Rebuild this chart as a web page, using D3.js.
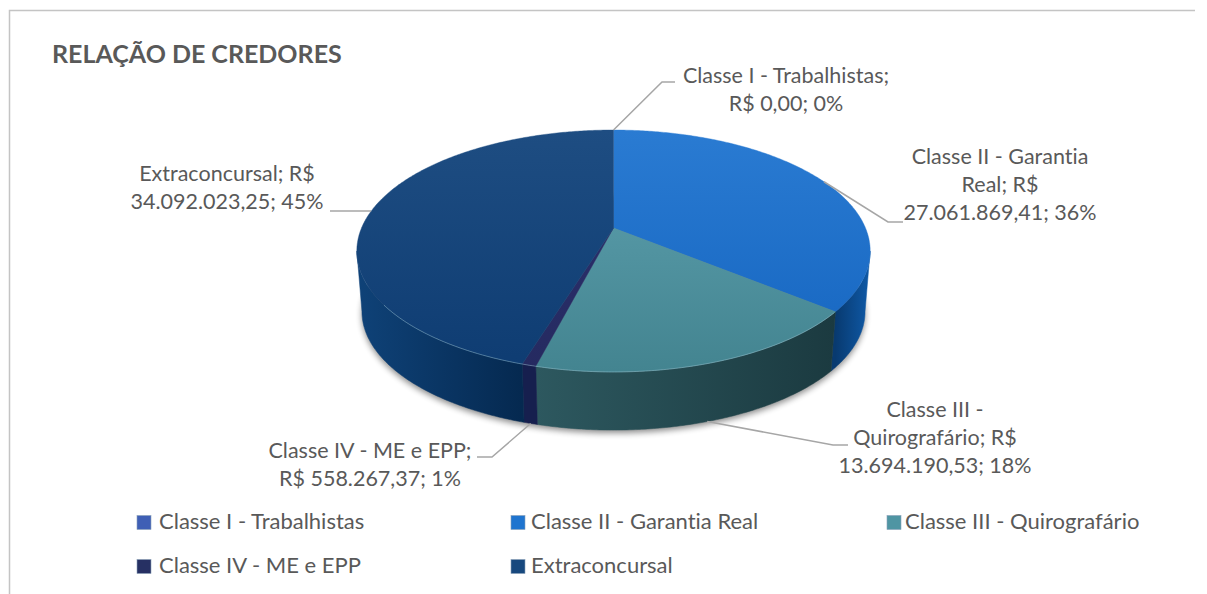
<!DOCTYPE html>
<html><head><meta charset="utf-8">
<script src="https://cdn.jsdelivr.net/npm/d3@7/dist/d3.min.js"></script>
<style>html,body{margin:0;padding:0;background:#fff}svg{display:block}text{font-family:Lato,Carlito,sans-serif;font-variant-ligatures:none}</style>
</head><body><div id="c"></div>
<script>
const title = "RELAÇÃO DE CREDORES";
const categories = ["Classe I - Trabalhistas","Classe II - Garantia Real","Classe III - Quirografário","Classe IV - ME e EPP","Extraconcursal"];
const values = [0, 27061869.41, 13694190.53, 558267.37, 34092023.25];
const dataLabels = [
  ["Classe I - Trabalhistas;","R$ 0,00; 0%"],
  ["Classe II - Garantia","Real; R$","27.061.869,41; 36%"],
  ["Classe III -","Quirografário; R$","13.694.190,53; 18%"],
  ["Classe IV - ME e EPP;","R$ 558.267,37; 1%"],
  ["Extraconcursal; R$","34.092.023,25; 45%"]
];
const topColors = [["#4a6cc0","#3553a5"],["#2a7bd2","#1565c0"],["#5fa2b0","#438490"],["#2c3170","#252a60"],["#1e4d82","#0e3c72"]];
const sideColors = [["#2a3f80","#2a3f80"],["#083a70","#0f5aa8"],["#2d585f","#1b3a40"],["#161f4e","#161f4e"],["#0f4278","#052950"]];
const legendColors = ["#3f5fb5","#1f74cf","#4f95a3","#263063","#17487e"];

const W=1207,H=594;
const svg=d3.select("#c").append("svg").attr("width",W).attr("height",H);
const defs=svg.append("defs");
defs.append("filter").attr("id","blur").attr("x","-10%").attr("y","-10%").attr("width","120%").attr("height","130%")
  .append("feGaussianBlur").attr("stdDeviation",3);

// frame
svg.append("path").attr("d","M9.5,594V10.5H1195").attr("fill","none").attr("stroke","#c4c4c4").attr("stroke-width",1.5);
svg.append("text").attr("x",52).attr("y",63).attr("font-size",25).attr("font-weight",700).attr("fill","#595959").text(title);

// pie geometry
const cx=613.5, apexY=228, B=252, A=116.6, k=0.19;
const rimS=0.98, rimY=289;
const pieAngles=d3.pie().sort(null).value(d=>d).startAngle(0).endAngle(2*Math.PI)(values);
const topP=t=>{const X=Math.sin(t),Y=Math.cos(t),d=1+k*Y;return [cx+B*X/d,apexY-A*Y/d];};
const botP=t=>{const X=Math.sin(t),Y=Math.cos(t),d=1+k*Y;return [cx+rimS*B*X/d,rimY-rimS*A*Y/d];};
const sweep=(a,b)=>{const n=Math.max(2,Math.ceil(Math.abs(b-a)/0.01));return d3.range(n+1).map(i=>a+(b-a)*i/n);};
const line=d3.line();
const visA=Math.acos(-k), visB=2*Math.PI-visA;

// soft shadow below the body
svg.append("path").attr("d",line(sweep(0,2*Math.PI).map(t=>{const p=botP(t);return [p[0],p[1]+3];}))+"Z")
  .attr("fill","#000").attr("opacity",.45).attr("filter","url(#blur)");

function grad(id,c,x1,y1,x2,y2){
  const g=defs.append("linearGradient").attr("id",id).attr("gradientUnits","userSpaceOnUse")
    .attr("x1",x1).attr("y1",y1).attr("x2",x2).attr("y2",y2);
  g.append("stop").attr("offset",0).attr("stop-color",c[0]);
  g.append("stop").attr("offset",1).attr("stop-color",c[1]);
  return `url(#${id})`;
}
const gSide=svg.append("g"), gTop=svg.append("g");

pieAngles.forEach((s,i)=>{
  const a=Math.max(s.startAngle,visA), b=Math.min(s.endAngle,visB);
  if(b>a){
    const ang=sweep(a,b), T=ang.map(topP), Bm=ang.map(botP).reverse();
    const fill=grad("side"+i,sideColors[i],d3.min(T,d=>d[0]),0,d3.max(T,d=>d[0]),0);
    gSide.append("path").attr("d",line(T.concat(Bm))+"Z").attr("fill",fill).attr("stroke",fill).attr("stroke-width",.5);
  }
  if(s.endAngle>s.startAngle){
    const pts=[[cx,apexY]].concat(sweep(s.startAngle,s.endAngle).map(topP));
    const fill=grad("top"+i,topColors[i],0,130,0,372);
    gTop.append("path").attr("d",line(pts)+"Z").attr("fill",fill).attr("stroke",fill).attr("stroke-width",.4);
  }
});
// rim highlight on the front of the top face
gTop.append("path").attr("d",line(sweep(Math.PI*0.72,Math.PI*1.3).map(topP))).attr("fill","none")
  .attr("stroke","#a8d4e4").attr("stroke-opacity",.4).attr("stroke-width",1);

// leader lines: from each slice's mid angle to its label
const leaderEls=[[662,82,675],[888,222,903],[833,445,848],[492,457,477],[330,211,368]];
pieAngles.forEach((s,i)=>{
  const m=(s.startAngle+s.endAngle)/2;
  const p=(i===2||i===3)?botP(m):topP(m);
  const e=leaderEls[i];
  const pts=i===4?[p,[e[0],p[1]]]:[p,[e[0],e[1]],[e[2],e[1]]];
  svg.append("path").attr("d",line(pts)).attr("fill","none").attr("stroke","#a6a6a6").attr("stroke-width",1.5);
});

// data labels
const labelPos=[[786,83],[1000,164],[935,417],[370,458],[227,181]];
dataLabels.forEach((ls,i)=>{
  const t=svg.append("text").attr("text-anchor","middle").attr("font-size",21.5).attr("fill","#595959");
  ls.forEach((l,j)=>t.append("tspan").attr("x",labelPos[i][0]).attr("y",labelPos[i][1]+j*28).text(l));
});

// legend
const legX=[137,511,887], legTextX=[159,531,905], legY=[522,566];
categories.forEach((c,i)=>{
  const col=i%3,row=Math.floor(i/3),x=legX[col],y=legY[row];
  svg.append("rect").attr("x",x).attr("y",y-6.5).attr("width",14).attr("height",14).attr("fill",legendColors[i]).attr("stroke","#8aa0b8").attr("stroke-width",.6);
  svg.append("text").attr("x",legTextX[col]).attr("y",y+7).attr("font-size",22).attr("fill","#595959").text(c);
});
</script></body></html>
